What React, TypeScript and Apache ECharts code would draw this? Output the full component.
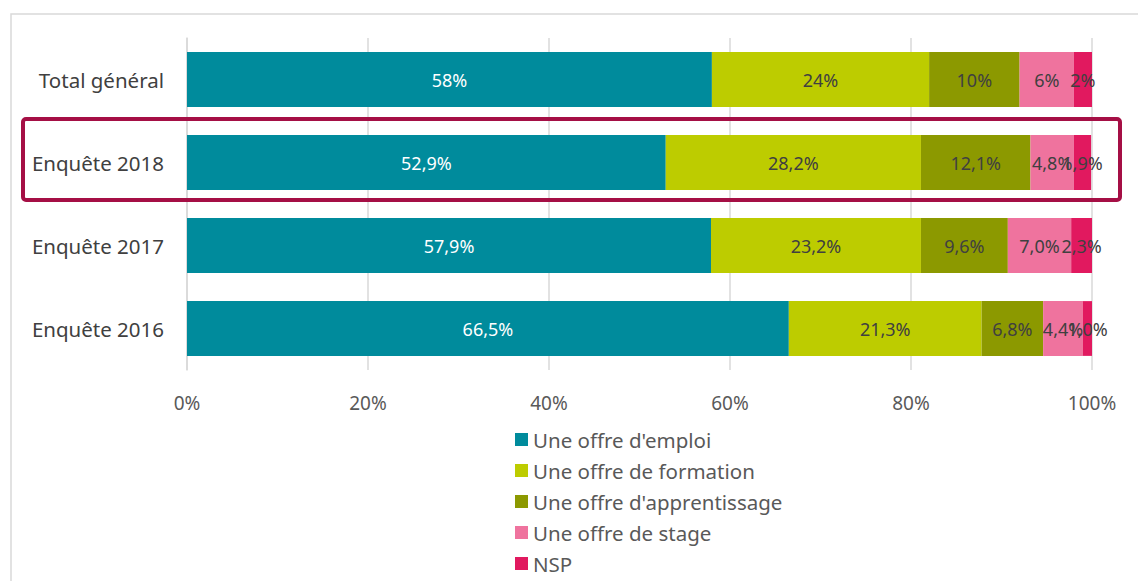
import React, { useEffect, useRef } from "react";
import * as echarts from "echarts";

const categories = ["Total général", "Enquête 2018", "Enquête 2017", "Enquête 2016"];
const seriesNames = [
  "Une offre d'emploi",
  "Une offre de formation",
  "Une offre d'apprentissage",
  "Une offre de stage",
  "NSP",
];
const emploi = [58, 52.9, 57.9, 66.5];
const formation = [24, 28.2, 23.2, 21.3];
const apprentissage = [10, 12.1, 9.6, 6.8];
const stage = [6, 4.8, 7.0, 4.4];
const nsp = [2, 1.9, 2.3, 1.0];
const decimals = [0, 1, 1, 1];
const xTicks = [0, 20, 40, 60, 80, 100];

const colors = ["#008B9C", "#BDCC00", "#8C9900", "#EF739E", "#E1195F"];
const labelColors = ["#FFFFFF", "#404040", "#404040", "#404040", "#404040"];
const FONT = "'Noto Sans', 'Open Sans', sans-serif";

export default function App() {
  const ref = useRef<HTMLDivElement>(null);
  useEffect(() => {
    if (!ref.current) return;
    const chart = echarts.init(ref.current, null, { renderer: "svg" });
    const allData = [emploi, formation, apprentissage, stage, nsp];
    chart.setOption({
      animation: false,
      textStyle: { fontFamily: FONT },
      grid: { left: 187, right: 46, top: 38, bottom: 211, containLabel: false },
      legend: {
        orient: "vertical",
        left: 515,
        top: 429,
        padding: 0,
        itemWidth: 13,
        itemHeight: 13,
        itemGap: 10,
        icon: "rect",
        data: seriesNames,
        textStyle: { fontSize: 20.5, color: "#595959", fontFamily: FONT },
      },
      xAxis: {
        type: "value",
        min: 0,
        max: 100,
        interval: 20,
        axisLine: { show: false },
        axisTick: { show: false },
        splitLine: { show: true, lineStyle: { color: "#D9D9D9", width: 1.5 } },
        axisLabel: {
          color: "#595959",
          fontSize: 19,
          margin: 23,
          fontFamily: FONT,
          formatter: (v: number) => (xTicks.includes(v) ? v + "%" : ""),
        },
      },
      yAxis: {
        type: "category",
        inverse: true,
        data: categories,
        axisLine: { show: true, lineStyle: { color: "#D9D9D9", width: 1.5 } },
        axisTick: { show: false },
        axisLabel: { color: "#404040", fontSize: 20.5, margin: 23, fontFamily: FONT },
      },
      graphic: [
        {
          type: "rect",
          shape: { x: 11, y: 14, width: 1150, height: 620 },
          style: { fill: "none", stroke: "#D9D9D9", lineWidth: 1.5 },
          z: -10,
        },
        {
          type: "rect",
          shape: { x: 23, y: 119, width: 1097, height: 81, r: 3 },
          style: { fill: "none", stroke: "#A50F45", lineWidth: 4 },
          z: 100,
        },
      ],
      series: seriesNames.map((name, i) => ({
        name,
        type: "bar",
        stack: "total",
        barCategoryGap: "34%",
        itemStyle: { color: colors[i] },
        label: {
          show: true,
          position: "inside",
          color: labelColors[i],
          fontSize: 18,
          fontFamily: FONT,
          formatter: (p: any) => {
            const d = decimals[p.dataIndex];
            return (p.value as number).toFixed(d).replace(".", ",") + "%";
          },
        },
        data: allData[i],
      })),
    });
    return () => chart.dispose();
  }, []);
  return (
    <div
      ref={ref}
      style={{ position: "fixed", left: 0, top: 0, width: 1138, height: 581, background: "#fff" }}
    />
  );
}
